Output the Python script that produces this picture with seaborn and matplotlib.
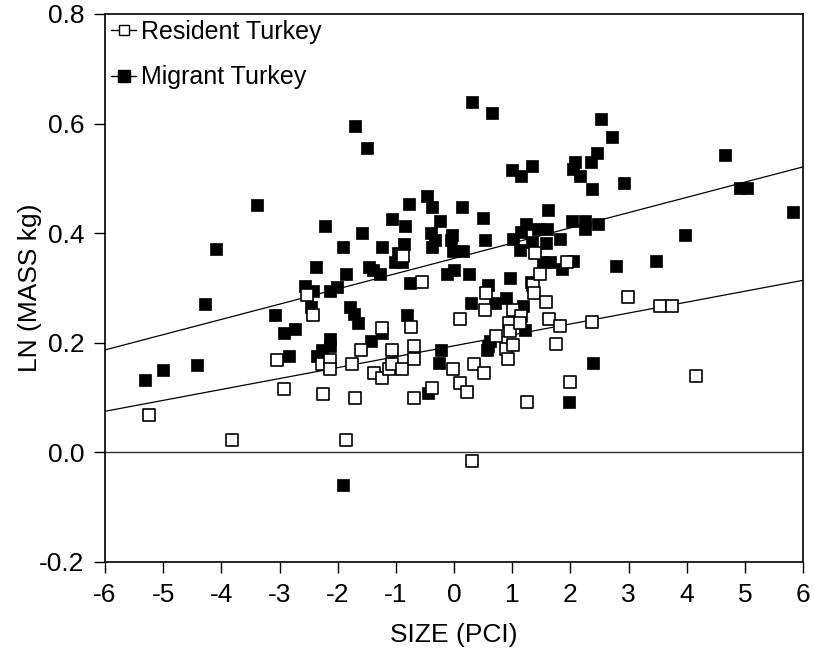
import pandas as pd
import matplotlib.pyplot as plt
import seaborn as sns
from matplotlib.lines import Line2D

# --- data ---
migrant_x = [-5.31, -5.01, -4.42, -4.28, -4.09, -3.38, -3.08, -2.92, -2.83, -2.73,
             -2.56, -2.43, -2.46, -2.37, -2.35, -2.27, -2.21, -2.14, -2.14, -2.13,
             -2.02, -1.90, -1.90, -1.85, -1.79, -1.72, -1.65, -1.71, -1.50, -1.58,
             -1.47, -1.39, -1.27, -1.43, -1.23, -1.23, -1.07, -1.01, -0.96, -0.90,
             -0.86, -0.84, -0.77, -0.81, -0.76, -0.46, -0.37, -0.40, -0.24, -0.33,
             -0.37, -0.44, -0.22, -0.26, -0.03, -0.05, -0.01, 0.16, 0.13, -0.12,
             0.00, 0.26, 0.31, 0.66, 0.49, 0.53, 0.59, 0.30, 0.70, 0.89,
             0.96, 1.00, 1.16, 1.34, 1.02, 1.23, 1.16, 1.45, 1.60, 1.34,
             1.59, 1.13, 1.53, 1.65, 1.62, 1.82, 1.32, 1.18, 1.22, 0.62,
             0.59, 0.57, 1.86, 2.05, 2.02, 2.25, 2.25, 2.48, 2.05, 2.08,
             2.17, 2.35, 2.45, 2.53, 2.72, 2.38, 2.92, 2.79, 2.39, 1.98,
             3.48, 3.97, 4.66, 4.92, 5.03, 5.82]
migrant_y = [0.133, 0.150, 0.160, 0.271, 0.372, 0.452, 0.250, 0.218, 0.176, 0.226,
             0.303, 0.294, 0.265, 0.338, 0.176, 0.186, 0.414, 0.207, 0.195, 0.294,
             0.302, 0.374, -0.059, 0.325, 0.265, 0.253, 0.236, 0.595, 0.555, 0.401,
             0.338, 0.332, 0.326, 0.203, 0.375, 0.217, 0.426, 0.347, 0.363, 0.347,
             0.381, 0.414, 0.453, 0.251, 0.310, 0.467, 0.448, 0.400, 0.422, 0.388,
             0.375, 0.109, 0.186, 0.163, 0.396, 0.387, 0.367, 0.367, 0.448, 0.326,
             0.332, 0.325, 0.640, 0.619, 0.428, 0.388, 0.305, 0.273, 0.273, 0.282,
             0.319, 0.516, 0.504, 0.522, 0.389, 0.417, 0.402, 0.408, 0.408, 0.384,
             0.382, 0.369, 0.347, 0.347, 0.442, 0.389, 0.311, 0.267, 0.223, 0.204,
             0.195, 0.186, 0.334, 0.350, 0.422, 0.422, 0.408, 0.417, 0.518, 0.530,
             0.505, 0.530, 0.546, 0.609, 0.576, 0.480, 0.492, 0.341, 0.164, 0.092,
             0.349, 0.397, 0.542, 0.482, 0.482, 0.438]

resident_x = [-5.24, -3.81, -3.05, -2.92, -2.53, -2.42, -2.27, -2.13, -2.14, -2.26,
              -1.86, -1.76, -1.70, -1.60, -1.37, -1.23, -1.23, -1.12, -1.07, -1.07,
              -0.89, -0.87, -0.74, -0.69, -0.69, -0.69, -0.55, -0.37, -0.01, 0.10,
              0.10, 0.23, 0.35, 0.52, 0.31, 0.53, 0.55, 0.72, 0.89, 1.01,
              0.93, 0.94, 0.96, 1.02, 1.16, 1.14, 1.25, 1.36, 1.37, 1.39,
              1.48, 1.58, 1.63, 1.75, 1.83, 1.94, 1.99, 2.38, 2.99, 3.54,
              3.74, 4.16]
resident_y = [0.069, 0.022, 0.168, 0.116, 0.287, 0.251, 0.161, 0.169, 0.152, 0.107,
              0.022, 0.161, 0.099, 0.186, 0.144, 0.136, 0.227, 0.153, 0.162, 0.187,
              0.153, 0.359, 0.228, 0.195, 0.170, 0.099, 0.311, 0.117, 0.153, 0.243,
              0.127, 0.110, 0.162, 0.145, -0.016, 0.259, 0.290, 0.212, 0.188, 0.196,
              0.171, 0.237, 0.221, 0.259, 0.248, 0.237, 0.092, 0.305, 0.290, 0.363,
              0.326, 0.274, 0.244, 0.197, 0.230, 0.347, 0.128, 0.238, 0.283, 0.268,
              0.268, 0.139]

# fitted lines, end values read at x = -6 and x = 6
fit_x = [-6, 6]
migrant_fit = [0.187, 0.521]
resident_fit = [0.075, 0.314]

migrant = pd.DataFrame({'size': migrant_x, 'mass': migrant_y})
resident = pd.DataFrame({'size': resident_x, 'mass': resident_y})
fits = pd.DataFrame({'size': fit_x, 'migrant': migrant_fit, 'resident': resident_fit})

sns.set_style('ticks')
plt.rcParams['font.family'] = ['Liberation Sans', 'DejaVu Sans']
plt.rcParams['axes.unicode_minus'] = False
plt.rcParams['text.color'] = 'black'
plt.rcParams['axes.labelcolor'] = 'black'
plt.rcParams['xtick.color'] = 'black'
plt.rcParams['ytick.color'] = 'black'

fig = plt.figure(figsize=(8.14, 6.54), dpi=100)
ax = fig.add_axes([0.129, 0.1407, 0.8575, 0.8379])

ax.axhline(0, color='#333333', linewidth=1.0, zorder=1)
sns.lineplot(data=fits, x='size', y='migrant', color='black', linewidth=0.9, ax=ax)
sns.lineplot(data=fits, x='size', y='resident', color='black', linewidth=0.9, ax=ax)

sns.scatterplot(data=migrant, x='size', y='mass', marker='s', s=85,
                color='black', edgecolor='black', linewidth=0.5, ax=ax, zorder=3)
sns.scatterplot(data=resident, x='size', y='mass', marker='s', s=75,
                color='white', edgecolor='black', linewidth=1.2, ax=ax, zorder=4)

ax.set_xlim(-6, 6)
ax.set_ylim(-0.2, 0.8)
ax.set_xticks(range(-6, 7))
ax.set_yticks([-0.2, 0.0, 0.2, 0.4, 0.6, 0.8])
ax.set_yticklabels(['-0.2', '0.0', '0.2', '0.4', '0.6', '0.8'])
ax.tick_params(direction='out', length=8, width=1.0, labelsize=19, color='black', pad=7)
for side in ['top', 'right', 'left', 'bottom']:
    ax.spines[side].set_visible(True)
    ax.spines[side].set_linewidth(1.2)
    ax.spines[side].set_color('black')

ax.set_xlabel('SIZE (PCI)', fontsize=19, labelpad=12)
ax.set_ylabel('LN (MASS kg)', fontsize=19, labelpad=-2)

handles = [
    Line2D([], [], color='black', linewidth=1.0, marker='s', markersize=7,
           markerfacecolor='white', markeredgecolor='black', markeredgewidth=1.0),
    Line2D([], [], color='black', linewidth=1.0, marker='s', markersize=8,
           markerfacecolor='black', markeredgecolor='black'),
]
ax.legend(handles, ['Resident Turkey', 'Migrant Turkey'], loc='upper left',
          frameon=False, fontsize=18, handlelength=1.0, handletextpad=0.2,
          borderpad=0.0, borderaxespad=0.25, labelspacing=0.85)

fig.savefig('out.png', dpi=100)
